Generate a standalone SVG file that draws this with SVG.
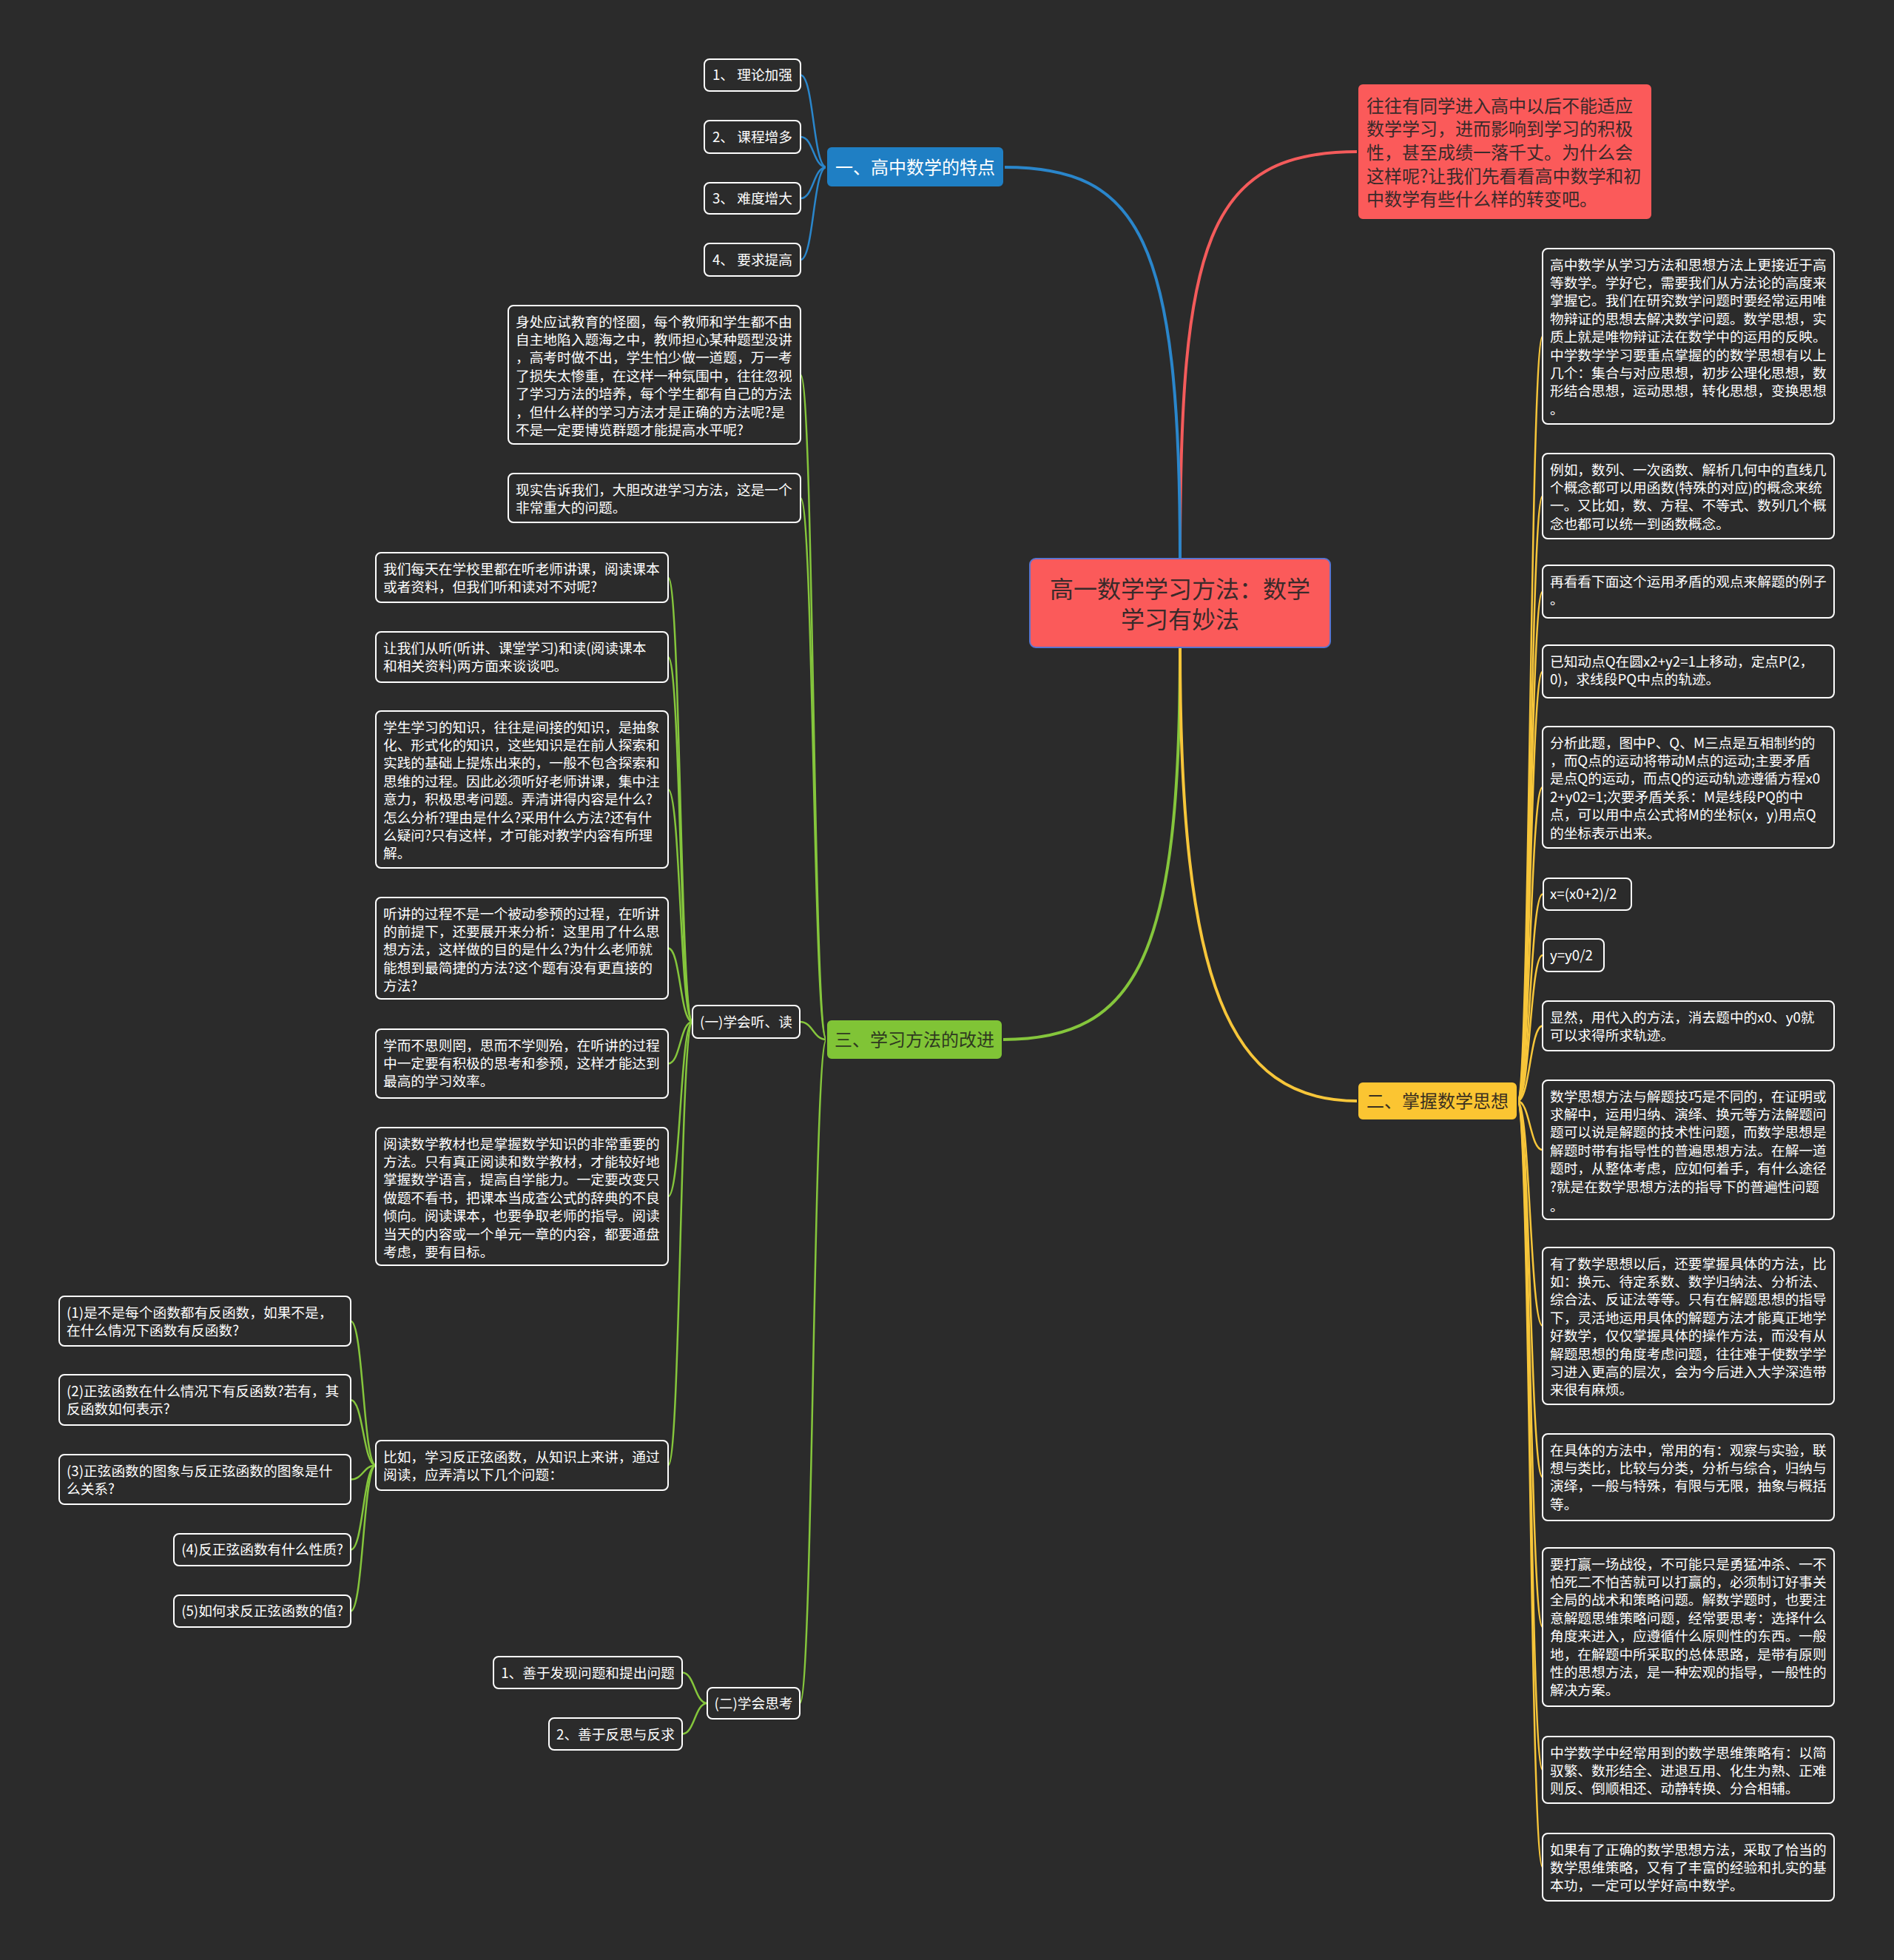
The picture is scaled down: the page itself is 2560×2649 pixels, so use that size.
<svg xmlns="http://www.w3.org/2000/svg" width="2560" height="2649" viewBox="0 0 2560 2649">
<style>
.t{font-family:"Noto Sans CJK SC","Noto Sans",sans-serif;font-size:18.7px;fill:#ffffff}
.box{fill:#2b2b2b;stroke:#ffffff;stroke-width:2}
.c{fill:none;stroke-linecap:round}
.cb{stroke:#2a86cb}
.cr{stroke:#f45b5b}
.cg{stroke:#85c63c}
.cy{stroke:#f7c63a}
.main{stroke-width:4}
.leaf{stroke-width:2.5}
</style>
<rect x="0" y="0" width="2560" height="2649" fill="#2b2b2b"/>

<g id="connectors">
  <path class="c cr main" d="M1595,755 C1595,330 1630,205 1835,205"/>
  <path class="c cb main" d="M1595,755 C1595,320 1540,226 1357,226"/>
  <path class="c cg main" d="M1595,875 C1595,1290 1540,1405 1355,1405"/>
  <path class="c cy main" d="M1595,875 C1595,1330 1660,1488 1835,1488"/>
  <!-- blue leaves -->
  <path class="c cb leaf" d="M1117,226 C1099,226 1100,101.5 1082,101.5"/>
  <path class="c cb leaf" d="M1117,226 C1099,226 1100,185 1082,185"/>
  <path class="c cb leaf" d="M1117,226 C1099,226 1100,268 1082,268"/>
  <path class="c cb leaf" d="M1117,226 C1099,226 1100,351 1082,351"/>
  <!-- yellow leaves -->
  <path class="c cy leaf" d="M2051,1488 C2068,1488 2068,454.5 2085,454.5"/>
  <path class="c cy leaf" d="M2051,1488 C2068,1488 2068,670.5 2085,670.5"/>
  <path class="c cy leaf" d="M2051,1488 C2068,1488 2068,799.5 2085,799.5"/>
  <path class="c cy leaf" d="M2051,1488 C2068,1488 2068,907.5 2085,907.5"/>
  <path class="c cy leaf" d="M2051,1488 C2068,1488 2068,1064 2085,1064"/>
  <path class="c cy leaf" d="M2051,1488 C2068,1488 2068,1208.5 2085,1208.5"/>
  <path class="c cy leaf" d="M2051,1488 C2068,1488 2068,1291 2085,1291"/>
  <path class="c cy leaf" d="M2051,1488 C2068,1488 2068,1386.5 2085,1386.5"/>
  <path class="c cy leaf" d="M2051,1488 C2068,1488 2068,1554 2085,1554"/>
  <path class="c cy leaf" d="M2051,1488 C2068,1488 2068,1792 2085,1792"/>
  <path class="c cy leaf" d="M2051,1488 C2068,1488 2068,1996.5 2085,1996.5"/>
  <path class="c cy leaf" d="M2051,1488 C2068,1488 2068,2199 2085,2199"/>
  <path class="c cy leaf" d="M2051,1488 C2068,1488 2068,2392 2085,2392"/>
  <path class="c cy leaf" d="M2051,1488 C2068,1488 2068,2523.5 2085,2523.5"/>
  <!-- green level 1 -->
  <path class="c cg leaf" d="M1117,1405 C1099,1405 1100,506.5 1082,506.5"/>
  <path class="c cg leaf" d="M1117,1405 C1099,1405 1100,673 1082,673"/>
  <path class="c cg leaf" d="M1117,1405 C1099,1405 1099,1381 1081,1381"/>
  <path class="c cg leaf" d="M1117,1405 C1099,1405 1099,2302 1081,2302"/>
  <!-- (一) children -->
  <path class="c cg leaf" d="M936,1381 C919,1381 920,780.5 903,780.5"/>
  <path class="c cg leaf" d="M936,1381 C919,1381 920,888 903,888"/>
  <path class="c cg leaf" d="M936,1381 C919,1381 920,1067 903,1067"/>
  <path class="c cg leaf" d="M936,1381 C919,1381 920,1281.5 903,1281.5"/>
  <path class="c cg leaf" d="M936,1381 C919,1381 920,1437.5 903,1437.5"/>
  <path class="c cg leaf" d="M936,1381 C919,1381 920,1617 903,1617"/>
  <path class="c cg leaf" d="M936,1381 C919,1381 920,1980.5 903,1980.5"/>
  <!-- 比如 children -->
  <path class="c cg leaf" d="M508,1980.5 C491,1980.5 491,1785.5 474,1785.5"/>
  <path class="c cg leaf" d="M508,1980.5 C491,1980.5 491,1892 474,1892"/>
  <path class="c cg leaf" d="M508,1980.5 C491,1980.5 491,1999.5 474,1999.5"/>
  <path class="c cg leaf" d="M508,1980.5 C491,1980.5 491,2094.5 474,2094.5"/>
  <path class="c cg leaf" d="M508,1980.5 C491,1980.5 491,2177.5 474,2177.5"/>
  <!-- (二) children -->
  <path class="c cg leaf" d="M956,2302 C939,2302 939,2260.5 922,2260.5"/>
  <path class="c cg leaf" d="M956,2302 C939,2302 939,2343.5 922,2343.5"/>
</g>

<g id="center">
  <rect x="1392" y="755" width="406" height="120" rx="8" fill="#fb5a5a" stroke="#5a74d0" stroke-width="2"/>
  <text class="t" style="font-size:32px;fill:#3a2a2a" text-anchor="middle"><tspan x="1595" y="808">高一数学学习方法：数学</tspan><tspan x="1595" y="849">学习有妙法</tspan></text>
</g>

<g id="intro">
  <rect x="1835" y="113" width="398" height="184" rx="7" fill="#fb5a5a" stroke="#2b2b2b" stroke-width="2"/>
  <text class="t" style="font-size:24px;fill:#3a2a2a"><tspan x="1847" y="151.5">往往有同学进入高中以后不能适应</tspan><tspan x="1847" y="183.2">数学学习，进而影响到学习的积极</tspan><tspan x="1847" y="214.9">性，甚至成绩一落千丈。为什么会</tspan><tspan x="1847" y="246.6">这样呢?让我们先看看高中数学和初</tspan><tspan x="1847" y="278.3">中数学有些什么样的转变吧。</tspan></text>
</g>

<g id="b1">
  <rect x="1117" y="198" width="240" height="55" rx="7" fill="#1f7fc4" stroke="#2b2b2b" stroke-width="2"/>
  <text class="t" style="font-size:24px" x="1237" y="234.5" text-anchor="middle">一、高中数学的特点</text>
</g>
<g id="b1-1"><rect class="box" x="952" y="80" width="130" height="43" rx="7"/><text class="t" x="1017" y="108" text-anchor="middle">1、 理论加强</text></g>
<g id="b1-2"><rect class="box" x="952" y="163" width="130" height="44" rx="7"/><text class="t" x="1017" y="191.5" text-anchor="middle">2、 课程增多</text></g>
<g id="b1-3"><rect class="box" x="952" y="247" width="130" height="42" rx="7"/><text class="t" x="1017" y="274.5" text-anchor="middle">3、 难度增大</text></g>
<g id="b1-4"><rect class="box" x="952" y="329" width="130" height="44" rx="7"/><text class="t" x="1017" y="357.5" text-anchor="middle">4、 要求提高</text></g>

<g id="b2">
  <rect x="1835" y="1462" width="216" height="52" rx="7" fill="#fbc532" stroke="#2b2b2b" stroke-width="2"/>
  <text class="t" style="font-size:24px;fill:#3a3020" x="1943" y="1496.5" text-anchor="middle">二、掌握数学思想</text>
</g>
<g id="r1"><rect class="box" x="2085" y="336" width="394" height="237" rx="7"/><text class="t"><tspan x="2095" y="364.5">高中数学从学习方法和思想方法上更接近于高</tspan><tspan x="2095" y="388.9">等数学。学好它，需要我们从方法论的高度来</tspan><tspan x="2095" y="413.3">掌握它。我们在研究数学问题时要经常运用唯</tspan><tspan x="2095" y="437.7">物辩证的思想去解决数学问题。数学思想，实</tspan><tspan x="2095" y="462.1">质上就是唯物辩证法在数学中的运用的反映。</tspan><tspan x="2095" y="486.5">中学数学学习要重点掌握的的数学思想有以上</tspan><tspan x="2095" y="510.9">几个：集合与对应思想，初步公理化思想，数</tspan><tspan x="2095" y="535.3">形结合思想，运动思想，转化思想，变换思想</tspan><tspan x="2095" y="559.7">。</tspan></text></g>
<g id="r2"><rect class="box" x="2085" y="613" width="394" height="115" rx="7"/><text class="t"><tspan x="2095" y="641.5">例如，数列、一次函数、解析几何中的直线几</tspan><tspan x="2095" y="665.9">个概念都可以用函数(特殊的对应)的概念来统</tspan><tspan x="2095" y="690.3">一。又比如，数、方程、不等式、数列几个概</tspan><tspan x="2095" y="714.7">念也都可以统一到函数概念。</tspan></text></g>
<g id="r3"><rect class="box" x="2085" y="764" width="394" height="71" rx="7"/><text class="t"><tspan x="2095" y="792.5">再看看下面这个运用矛盾的观点来解题的例子</tspan><tspan x="2095" y="816.9">。</tspan></text></g>
<g id="r4"><rect class="box" x="2085" y="872" width="394" height="71" rx="7"/><text class="t"><tspan x="2095" y="900.5">已知动点Q在圆x2+y2=1上移动，定点P(2，</tspan><tspan x="2095" y="924.9">0)，求线段PQ中点的轨迹。</tspan></text></g>
<g id="r5"><rect class="box" x="2085" y="982" width="394" height="164" rx="7"/><text class="t"><tspan x="2095" y="1010.5">分析此题，图中P、Q、M三点是互相制约的</tspan><tspan x="2095" y="1034.9">，而Q点的运动将带动M点的运动;主要矛盾</tspan><tspan x="2095" y="1059.3">是点Q的运动，而点Q的运动轨迹遵循方程x0</tspan><tspan x="2095" y="1083.7">2+y02=1;次要矛盾关系：M是线段PQ的中</tspan><tspan x="2095" y="1108.1">点，可以用中点公式将M的坐标(x，y)用点Q</tspan><tspan x="2095" y="1132.5">的坐标表示出来。</tspan></text></g>
<g id="r6"><rect class="box" x="2086" y="1187" width="119" height="43" rx="7"/><text class="t" x="2095" y="1215">x=(x0+2)/2</text></g>
<g id="r7"><rect class="box" x="2086" y="1269" width="82" height="44" rx="7"/><text class="t" x="2095" y="1297.5">y=y0/2</text></g>
<g id="r8"><rect class="box" x="2085" y="1353" width="394" height="67" rx="7"/><text class="t"><tspan x="2095" y="1381.5">显然，用代入的方法，消去题中的x0、y0就</tspan><tspan x="2095" y="1405.9">可以求得所求轨迹。</tspan></text></g>
<g id="r9"><rect class="box" x="2085" y="1460" width="394" height="188" rx="7"/><text class="t"><tspan x="2095" y="1488.5">数学思想方法与解题技巧是不同的，在证明或</tspan><tspan x="2095" y="1512.9">求解中，运用归纳、演绎、换元等方法解题问</tspan><tspan x="2095" y="1537.3">题可以说是解题的技术性问题，而数学思想是</tspan><tspan x="2095" y="1561.7">解题时带有指导性的普遍思想方法。在解一道</tspan><tspan x="2095" y="1586.1">题时，从整体考虑，应如何着手，有什么途径</tspan><tspan x="2095" y="1610.5">?就是在数学思想方法的指导下的普遍性问题</tspan><tspan x="2095" y="1636.9">。</tspan></text></g>
<g id="r10"><rect class="box" x="2085" y="1686" width="394" height="212" rx="7"/><text class="t"><tspan x="2095" y="1714.5">有了数学思想以后，还要掌握具体的方法，比</tspan><tspan x="2095" y="1738.9">如：换元、待定系数、数学归纳法、分析法、</tspan><tspan x="2095" y="1763.3">综合法、反证法等等。只有在解题思想的指导</tspan><tspan x="2095" y="1787.7">下，灵活地运用具体的解题方法才能真正地学</tspan><tspan x="2095" y="1812.1">好数学，仅仅掌握具体的操作方法，而没有从</tspan><tspan x="2095" y="1836.5">解题思想的角度考虑问题，往往难于使数学学</tspan><tspan x="2095" y="1860.9">习进入更高的层次，会为今后进入大学深造带</tspan><tspan x="2095" y="1885.3">来很有麻烦。</tspan></text></g>
<g id="r11"><rect class="box" x="2085" y="1938" width="394" height="117" rx="7"/><text class="t"><tspan x="2095" y="1966.5">在具体的方法中，常用的有：观察与实验，联</tspan><tspan x="2095" y="1990.9">想与类比，比较与分类，分析与综合，归纳与</tspan><tspan x="2095" y="2015.3">演绎，一般与特殊，有限与无限，抽象与概括</tspan><tspan x="2095" y="2039.7">等。</tspan></text></g>
<g id="r12"><rect class="box" x="2085" y="2092" width="394" height="214" rx="7"/><text class="t"><tspan x="2095" y="2120.5">要打赢一场战役，不可能只是勇猛冲杀、一不</tspan><tspan x="2095" y="2144.9">怕死二不怕苦就可以打赢的，必须制订好事关</tspan><tspan x="2095" y="2169.3">全局的战术和策略问题。解数学题时，也要注</tspan><tspan x="2095" y="2193.7">意解题思维策略问题，经常要思考：选择什么</tspan><tspan x="2095" y="2218.1">角度来进入，应遵循什么原则性的东西。一般</tspan><tspan x="2095" y="2242.5">地，在解题中所采取的总体思路，是带有原则</tspan><tspan x="2095" y="2266.9">性的思想方法，是一种宏观的指导，一般性的</tspan><tspan x="2095" y="2291.3">解决方案。</tspan></text></g>
<g id="r13"><rect class="box" x="2085" y="2347" width="394" height="90" rx="7"/><text class="t"><tspan x="2095" y="2375.5">中学数学中经常用到的数学思维策略有：以简</tspan><tspan x="2095" y="2399.9">驭繁、数形结全、进退互用、化生为熟、正难</tspan><tspan x="2095" y="2424.3">则反、倒顺相还、动静转换、分合相辅。</tspan></text></g>
<g id="r14"><rect class="box" x="2085" y="2478" width="394" height="91" rx="7"/><text class="t"><tspan x="2095" y="2506.5">如果有了正确的数学思想方法，采取了恰当的</tspan><tspan x="2095" y="2530.9">数学思维策略，又有了丰富的经验和扎实的基</tspan><tspan x="2095" y="2555.3">本功，一定可以学好高中数学。</tspan></text></g>

<g id="b3">
  <rect x="1117" y="1378" width="238" height="54" rx="7" fill="#80c436" stroke="#2b2b2b" stroke-width="2"/>
  <text class="t" style="font-size:24px;fill:#2f3a20" x="1236" y="1413.5" text-anchor="middle">三、学习方法的改进</text>
</g>
<g id="g-a"><rect class="box" x="687" y="413" width="395" height="187" rx="7"/><text class="t"><tspan x="697" y="441.5">身处应试教育的怪圈，每个教师和学生都不由</tspan><tspan x="697" y="465.9">自主地陷入题海之中，教师担心某种题型没讲</tspan><tspan x="697" y="490.3">，高考时做不出，学生怕少做一道题，万一考</tspan><tspan x="697" y="514.7">了损失太惨重，在这样一种氛围中，往往忽视</tspan><tspan x="697" y="539.1">了学习方法的培养，每个学生都有自己的方法</tspan><tspan x="697" y="563.5">，但什么样的学习方法才是正确的方法呢?是</tspan><tspan x="697" y="587.9">不是一定要博览群题才能提高水平呢?</tspan></text></g>
<g id="g-b"><rect class="box" x="687" y="640" width="395" height="66" rx="7"/><text class="t"><tspan x="697" y="668.5">现实告诉我们，大胆改进学习方法，这是一个</tspan><tspan x="697" y="692.9">非常重大的问题。</tspan></text></g>

<g id="g-1"><rect class="box" x="936" y="1359" width="145" height="44" rx="7"/><text class="t" x="1008.5" y="1388" text-anchor="middle">(一)学会听、读</text></g>
<g id="l1"><rect class="box" x="508" y="747" width="395" height="67" rx="7"/><text class="t"><tspan x="518" y="775.5">我们每天在学校里都在听老师讲课，阅读课本</tspan><tspan x="518" y="799.9">或者资料，但我们听和读对不对呢?</tspan></text></g>
<g id="l2"><rect class="box" x="508" y="854" width="395" height="68" rx="7"/><text class="t"><tspan x="518" y="882.5">让我们从听(听讲、课堂学习)和读(阅读课本</tspan><tspan x="518" y="906.9">和相关资料)两方面来谈谈吧。</tspan></text></g>
<g id="l3"><rect class="box" x="508" y="961" width="395" height="212" rx="7"/><text class="t"><tspan x="518" y="989.5">学生学习的知识，往往是间接的知识，是抽象</tspan><tspan x="518" y="1013.9">化、形式化的知识，这些知识是在前人探索和</tspan><tspan x="518" y="1038.3">实践的基础上提炼出来的，一般不包含探索和</tspan><tspan x="518" y="1062.7">思维的过程。因此必须听好老师讲课，集中注</tspan><tspan x="518" y="1087.1">意力，积极思考问题。弄清讲得内容是什么?</tspan><tspan x="518" y="1111.5">怎么分析?理由是什么?采用什么方法?还有什</tspan><tspan x="518" y="1135.9">么疑问?只有这样，才可能对教学内容有所理</tspan><tspan x="518" y="1160.3">解。</tspan></text></g>
<g id="l4"><rect class="box" x="508" y="1213" width="395" height="137" rx="7"/><text class="t"><tspan x="518" y="1241.5">听讲的过程不是一个被动参预的过程，在听讲</tspan><tspan x="518" y="1265.9">的前提下，还要展开来分析：这里用了什么思</tspan><tspan x="518" y="1290.3">想方法，这样做的目的是什么?为什么老师就</tspan><tspan x="518" y="1314.7">能想到最简捷的方法?这个题有没有更直接的</tspan><tspan x="518" y="1339.1">方法?</tspan></text></g>
<g id="l5"><rect class="box" x="508" y="1391" width="395" height="93" rx="7"/><text class="t"><tspan x="518" y="1419.5">学而不思则罔，思而不学则殆，在听讲的过程</tspan><tspan x="518" y="1443.9">中一定要有积极的思考和参预，这样才能达到</tspan><tspan x="518" y="1468.3">最高的学习效率。</tspan></text></g>
<g id="l6"><rect class="box" x="508" y="1524" width="395" height="186" rx="7"/><text class="t"><tspan x="518" y="1552.5">阅读数学教材也是掌握数学知识的非常重要的</tspan><tspan x="518" y="1576.9">方法。只有真正阅读和数学教材，才能较好地</tspan><tspan x="518" y="1601.3">掌握数学语言，提高自学能力。一定要改变只</tspan><tspan x="518" y="1625.7">做题不看书，把课本当成查公式的辞典的不良</tspan><tspan x="518" y="1650.1">倾向。阅读课本，也要争取老师的指导。阅读</tspan><tspan x="518" y="1674.5">当天的内容或一个单元一章的内容，都要通盘</tspan><tspan x="518" y="1698.9">考虑，要有目标。</tspan></text></g>
<g id="l7"><rect class="box" x="508" y="1947" width="395" height="67" rx="7"/><text class="t"><tspan x="518" y="1975.5">比如，学习反正弦函数，从知识上来讲，通过</tspan><tspan x="518" y="1999.9">阅读，应弄清以下几个问题：</tspan></text></g>
<g id="q1"><rect class="box" x="80" y="1752" width="394" height="67" rx="7"/><text class="t"><tspan x="90" y="1780.5">(1)是不是每个函数都有反函数，如果不是，</tspan><tspan x="90" y="1804.9">在什么情况下函数有反函数?</tspan></text></g>
<g id="q2"><rect class="box" x="80" y="1858" width="394" height="68" rx="7"/><text class="t"><tspan x="90" y="1886.5">(2)正弦函数在什么情况下有反函数?若有，其</tspan><tspan x="90" y="1910.9">反函数如何表示?</tspan></text></g>
<g id="q3"><rect class="box" x="80" y="1966" width="394" height="67" rx="7"/><text class="t"><tspan x="90" y="1994.5">(3)正弦函数的图象与反正弦函数的图象是什</tspan><tspan x="90" y="2018.9">么关系?</tspan></text></g>
<g id="q4"><rect class="box" x="235" y="2073" width="239" height="43" rx="7"/><text class="t" x="354.5" y="2101" text-anchor="middle">(4)反正弦函数有什么性质?</text></g>
<g id="q5"><rect class="box" x="235" y="2156" width="239" height="43" rx="7"/><text class="t" x="354.5" y="2184" text-anchor="middle">(5)如何求反正弦函数的值?</text></g>

<g id="g-2"><rect class="box" x="956" y="2281" width="125" height="42" rx="7"/><text class="t" x="1018.5" y="2308.5" text-anchor="middle">(二)学会思考</text></g>
<g id="t1"><rect class="box" x="667" y="2239" width="255" height="43" rx="7"/><text class="t" x="794.5" y="2267.5" text-anchor="middle">1、善于发现问题和提出问题</text></g>
<g id="t2"><rect class="box" x="742" y="2322" width="180" height="43" rx="7"/><text class="t" x="832" y="2350.5" text-anchor="middle">2、善于反思与反求</text></g>
</svg>
